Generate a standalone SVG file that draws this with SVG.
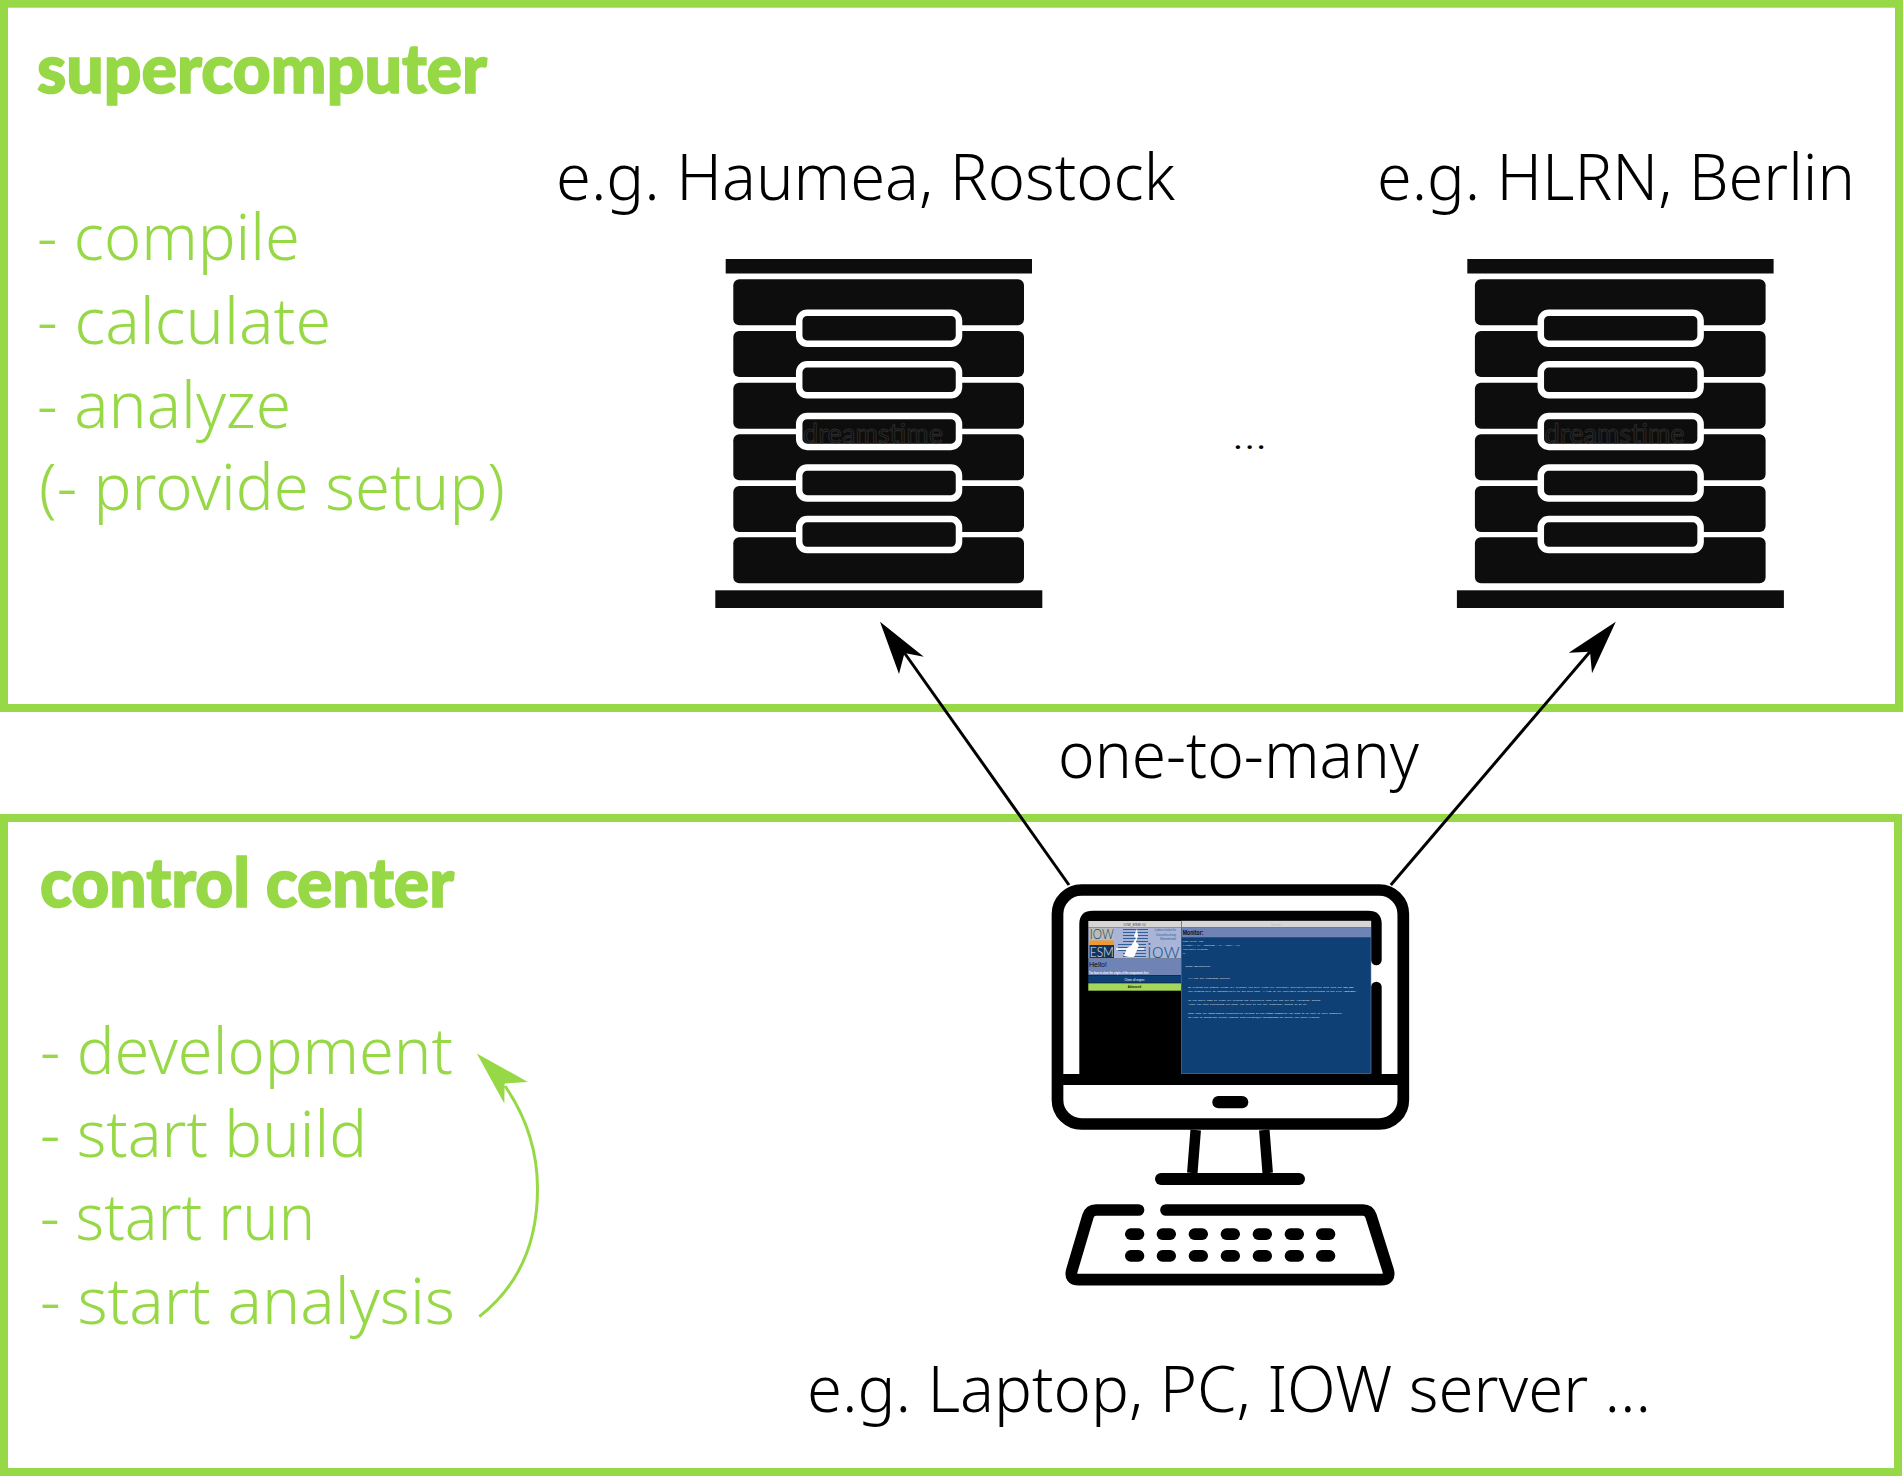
<svg xmlns="http://www.w3.org/2000/svg" xmlns:xlink="http://www.w3.org/1999/xlink" width="1903" height="1476" viewBox="0 0 1903 1476">
<style>
.frame{fill:none;stroke:#97d846;stroke-width:8}
.t{font-family:"Noto Sans","Open Sans",sans-serif;font-size:64px;font-weight:350;fill:#000}
.g{fill:#97d846}
.h{font-family:Lato,"Noto Sans",sans-serif;font-size:69px;font-weight:900;fill:#97d846;stroke:#97d846;stroke-width:1.6}
.k{fill:#000}
.rack{fill:#0d0d0d}
.slot{fill:#0d0d0d;stroke:#fff;stroke-width:6.5}
.mono{font-family:"Liberation Mono",monospace;font-size:2.4px;fill:#eef3fa}
.ui{font-family:"Liberation Sans",Arial,sans-serif}
.thin{font-family:Lato,sans-serif;font-weight:300}
.conn{fill:none;stroke:#000;stroke-width:3}
</style>
<defs>
<g id="server">
<rect class="rack" x="725.7" y="259" width="306.3" height="14.5"/>
<rect class="rack" x="733.3" y="279.3" width="290.7" height="46" rx="6"/>
<rect class="rack" x="733.3" y="331" width="290.7" height="46" rx="6"/>
<rect class="rack" x="733.3" y="382.7" width="290.7" height="46" rx="6"/>
<rect class="rack" x="733.3" y="434.3" width="290.7" height="46" rx="6"/>
<rect class="rack" x="733.3" y="486" width="290.7" height="46" rx="6"/>
<rect class="rack" x="733.3" y="537.3" width="290.7" height="46" rx="6"/>
<rect class="rack" x="715.3" y="590.3" width="327" height="17.7"/>
<rect class="slot" x="799.2" y="312.7" width="159.8" height="31" rx="8"/>
<rect class="slot" x="799.2" y="364.3" width="159.8" height="31" rx="8"/>
<rect class="slot" x="799.2" y="415.9" width="159.8" height="31" rx="8"/>
<rect class="slot" x="799.2" y="467.5" width="159.8" height="31" rx="8"/>
<rect class="slot" x="799.2" y="519.1" width="159.8" height="31" rx="8"/>
<text x="803" y="443" font-family="Lato,sans-serif" font-size="26" fill="none" stroke="#2c2c2c" stroke-width=".9" textLength="140" lengthAdjust="spacingAndGlyphs">dreamstime</text>
</g>
</defs>

<g id="supercomputer">
<rect class="frame" x="4" y="3.7" width="1895" height="704.3"/>
<text class="h" x="37" y="93" textLength="450" lengthAdjust="spacingAndGlyphs">supercomputer</text>
<text class="t g" x="37" y="260" textLength="263" lengthAdjust="spacingAndGlyphs">- compile</text>
<text class="t g" x="37" y="344" textLength="294" lengthAdjust="spacingAndGlyphs">- calculate</text>
<text class="t g" x="37" y="427.5" textLength="254" lengthAdjust="spacingAndGlyphs">- analyze</text>
<text class="t g" x="39" y="510" textLength="466" lengthAdjust="spacingAndGlyphs">(- provide setup)</text>
<text class="t" x="556" y="200" textLength="619" lengthAdjust="spacingAndGlyphs">e.g. Haumea, Rostock</text>
<text class="t" x="1377" y="200" textLength="478" lengthAdjust="spacingAndGlyphs">e.g. HLRN, Berlin</text>
<text class="t" x="1232" y="449" style="font-size:36px" textLength="35" lengthAdjust="spacingAndGlyphs">...</text>
</g>

<g id="server-haumea"><use href="#server" xlink:href="#server"/></g>
<g id="server-hlrn"><use href="#server" xlink:href="#server" x="741.6"/></g>

<g id="control-center">
<rect class="frame" x="4" y="818" width="1894" height="654"/>
<text class="h" x="40" y="906.5" textLength="414" lengthAdjust="spacingAndGlyphs">control center</text>
<text class="t g" x="40" y="1073.5" textLength="413" lengthAdjust="spacingAndGlyphs">- development</text>
<text class="t g" x="40" y="1157" textLength="327" lengthAdjust="spacingAndGlyphs">- start build</text>
<text class="t g" x="40" y="1240" textLength="275" lengthAdjust="spacingAndGlyphs">- start run</text>
<text class="t g" x="40" y="1324" textLength="415" lengthAdjust="spacingAndGlyphs">- start analysis</text>
<text class="t" x="807" y="1411.7" textLength="844" lengthAdjust="spacingAndGlyphs">e.g. Laptop, PC, IOW server ...</text>
</g>

<text id="one-to-many" class="t" x="1058" y="778" textLength="361" lengthAdjust="spacingAndGlyphs">one-to-many</text>

<g id="computer">
<rect x="1057.5" y="890" width="345.8" height="234" rx="24" fill="#fff" stroke="#000" stroke-width="11.7"/>
<path class="k" d="M1079.3 1074V924Q1079.3 910.7 1093 910.7H1368Q1381.7 910.7 1381.7 924V1074Z"/>
<rect x="1371" y="960" width="11.5" height="27" fill="#fff"/>
<path class="k" d="M1371 960a5.35 5.35 0 0 0 10.7 0ZM1371 987a5.35 5.35 0 0 1 10.7 0Z"/>
<rect class="k" x="1057" y="1074" width="346" height="11"/>
<rect class="k" x="1212.3" y="1096" width="36" height="12.3" rx="6.1"/>
<path d="M1195.7 1130L1192.3 1173M1264.3 1130L1267.7 1173" fill="none" stroke="#000" stroke-width="10.5"/>
<path d="M1161 1179H1299" fill="none" stroke="#000" stroke-width="12" stroke-linecap="round"/>
<path d="M1138.5 1210H1096Q1090 1210 1088 1216L1072 1270Q1069 1279.7 1079 1279.7H1381Q1391 1279.7 1388 1270L1371 1216Q1369 1210 1363 1210H1166" fill="none" stroke="#000" stroke-width="11.7" stroke-linecap="round" stroke-linejoin="round"/>
<g class="k">
<rect x="1125" y="1228.3" width="19.3" height="11.7" rx="5.8"/><rect x="1156.7" y="1228.3" width="19.3" height="11.7" rx="5.8"/><rect x="1188.7" y="1228.3" width="19.3" height="11.7" rx="5.8"/><rect x="1220.7" y="1228.3" width="19.3" height="11.7" rx="5.8"/><rect x="1252.7" y="1228.3" width="19.3" height="11.7" rx="5.8"/><rect x="1284.7" y="1228.3" width="19.3" height="11.7" rx="5.8"/><rect x="1316" y="1228.3" width="19.3" height="11.7" rx="5.8"/>
<rect x="1125" y="1250" width="19.3" height="11.7" rx="5.8"/><rect x="1156.7" y="1250" width="19.3" height="11.7" rx="5.8"/><rect x="1188.7" y="1250" width="19.3" height="11.7" rx="5.8"/><rect x="1220.7" y="1250" width="19.3" height="11.7" rx="5.8"/><rect x="1252.7" y="1250" width="19.3" height="11.7" rx="5.8"/><rect x="1284.7" y="1250" width="19.3" height="11.7" rx="5.8"/><rect x="1316" y="1250" width="19.3" height="11.7" rx="5.8"/>
</g>

<!-- left window -->
<rect x="1088.3" y="921" width="92.7" height="6.3" fill="#d6d6d6"/>
<text class="ui" x="1134.5" y="926" font-size="3.6" text-anchor="middle" fill="#444">IOW_ESM #0</text>
<rect x="1088.3" y="927.3" width="92.7" height="31.4" fill="#a9b4d6"/>
<rect x="1089.5" y="928" width="24.5" height="12" fill="#b9bcb8"/>
<text class="thin" x="1089.8" y="939" font-size="13" fill="#16365f" textLength="24" lengthAdjust="spacingAndGlyphs">IOW</text>
<rect x="1089.5" y="940.5" width="24.5" height="4.5" fill="#f09a2a"/>
<rect x="1089.5" y="945" width="24.5" height="13" fill="#12355f"/>
<text class="thin" x="1089.8" y="956.8" font-size="13" fill="#e8ecf2" textLength="24" lengthAdjust="spacingAndGlyphs">ESM</text>
<path d="M1123 929.5H1148M1123 932.5H1148M1123 935.5H1148M1123 938.5H1148M1123 941.5H1148M1118 944.5H1146M1118 947.5H1146M1118 950.5H1146M1123 953.5H1146M1123 956.5H1146" stroke="#2f5f96" stroke-width="1.1" fill="none"/>
<path d="M1137 928.5L1134 936L1136 938L1131 946L1127 948L1124 956L1129 957L1134 957L1137 950L1139 945L1136 942L1138 936Z" fill="#fff"/>
<path d="M1116 949H1144" stroke="#fff" stroke-width="1.5"/>
<text class="thin" x="1147" y="958" font-size="22" fill="#1f5c96" textLength="33" lengthAdjust="spacingAndGlyphs">iow</text>
<g class="ui" font-size="2.7" fill="#2a5f96" text-anchor="end">
<text x="1176" y="930.5">Leibniz-Institut für</text>
<text x="1176" y="935.5">Ostseeforschung</text>
<text x="1176" y="940">Warnemünde</text>
</g>
<rect x="1088.3" y="958.7" width="92.7" height="16.6" fill="#6f84b5"/>
<text class="ui" x="1089" y="967" font-size="7" fill="#0a0a14">Hello!</text>
<text class="ui" x="1089" y="973.6" font-size="2.7" font-weight="700" fill="#fff" textLength="60" lengthAdjust="spacingAndGlyphs">You have to clone the origins of the components first:</text>
<rect x="1088.3" y="976" width="92.7" height="6.8" fill="#0e4076"/>
<text class="ui" x="1134.5" y="980.5" font-size="2.8" text-anchor="middle" fill="#fff">Clone all origins</text>
<rect x="1088.3" y="983.3" width="92.7" height="7.4" fill="#a5d85a"/>
<text class="ui" x="1134.5" y="988" font-size="2.8" font-weight="700" text-anchor="middle" fill="#111">Advanced</text>

<!-- monitor window -->
<rect x="1181.7" y="921" width="189.3" height="152.3" fill="#0e4076" stroke="#7f8aa0" stroke-width=".6"/>
<rect x="1181.7" y="921" width="189.3" height="6.3" fill="#d6d6d6"/>
<text class="ui" x="1276" y="926" font-size="3" text-anchor="middle" fill="#bbb">Monitor</text>
<rect x="1181.7" y="927.3" width="189.3" height="10" fill="#6f84b5"/>
<text class="ui" x="1182.7" y="935" font-size="7" font-weight="700" fill="#0a0a14" textLength="20.7" lengthAdjust="spacingAndGlyphs">Monitor:</text>
<g class="mono">
<text x="1182.7" y="941.5">Last error log:</text>
<text x="1182.7" y="945.5">{'fatal': [], 'warning': [], 'info': []}</text>
<text x="1182.7" y="950">Available origins:</text>
<text x="1182.7" y="954">{}</text>
<text x="1182.7" y="962.3">==================================</text>
<text x="1182.7" y="966.6">=       Usage Information        =</text>
<text x="1182.7" y="971">==================================</text>
<text x="1188.3" y="979.2">### Get the component sources</text>
<text x="1188.3" y="987.8">By hitting the button "Clone all origins" you will clone all currently available repositories that form the IOW_ESM.</text>
<text x="1188.3" y="992">The program will go automatically to the next step. A list of all available origins is provided in the file "ORIGINS".</text>
<text x="1188.3" y="1000.7">If you don't want to clone all origins but particular ones you can hit the "Advanced" button.</text>
<text x="1188.3" y="1004.8">After you have everything you need, you have to hit the "Continue" button to go on.</text>
<text x="1188.3" y="1013.5">Note that for downloading repositories related to the CCSM2 community you need to be part of this community.</text>
<text x="1188.3" y="1017.6">In case of questions please contact sven.karsten@io-warnemuende.de before you start cloning.</text>
</g>
</g>

<g id="connectors">
<path class="conn" d="M1069 885L904.5 653"/>
<path class="k" d="M880 621.7L923.8 656.7L904.5 653L899 674Z"/>
<path class="conn" d="M1390.8 885L1590 651.7"/>
<path class="k" d="M1615.8 621.7L1592 673.3L1590 651.7L1568.7 652.7Z"/>
<path d="M479.3 1316.6C520 1285 537.5 1240 537.5 1188.8C537.5 1150 525 1115 505 1086" fill="none" stroke="#97d846" stroke-width="3"/>
<path class="g" d="M476.8 1053.4L527.9 1082L504.6 1083.5L504.3 1103.5Z"/>
</g>
</svg>
